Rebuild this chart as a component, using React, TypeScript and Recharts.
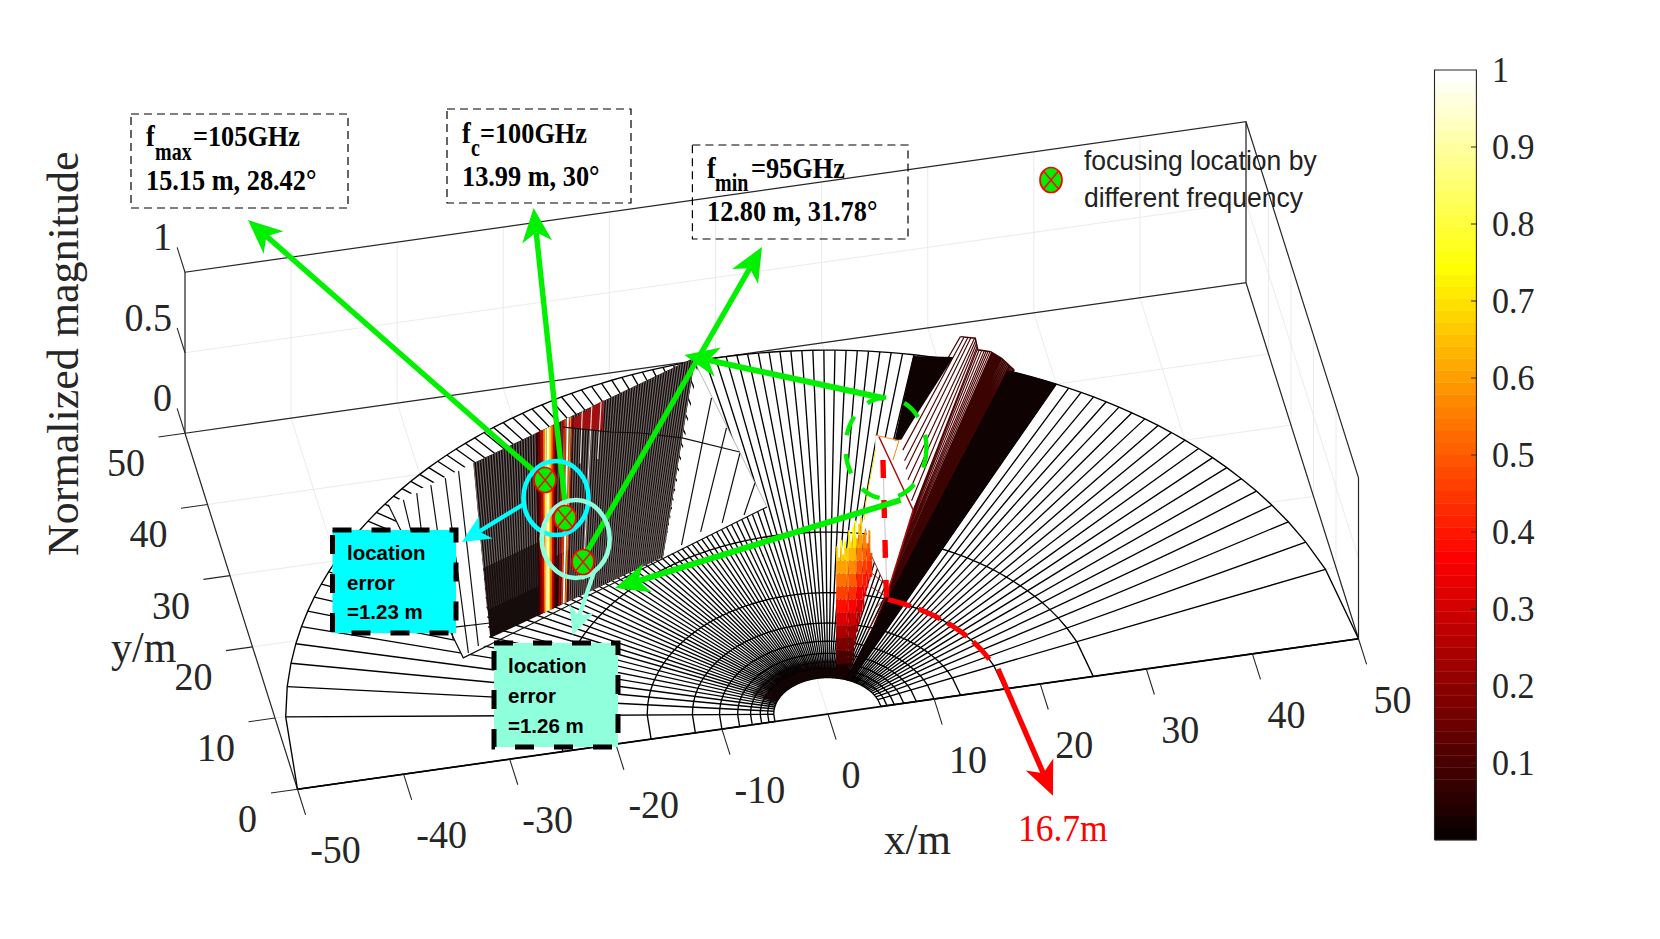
import React from "react";
import { ScatterChart, Scatter, XAxis, YAxis } from "recharts";

type Pt = [number, number];

const WIDTH = 1660;
const HEIGHT = 939;

// axis ticks
const xTicks = [-50, -40, -30, -20, -10, 0, 10, 20, 30, 40, 50];
const yTicks = [0, 10, 20, 30, 40, 50];
const zTicks = [0, 0.5, 1];
const colorbarTicks = [0.1, 0.2, 0.3, 0.4, 0.5, 0.6, 0.7, 0.8, 0.9, 1];

const meshU = [
  -1, -0.98, -0.96, -0.94, -0.92, -0.9, -0.88, -0.86, -0.84, -0.82, -0.8, -0.78, -0.76, -0.74, -0.72, -0.7, -0.68,
  -0.66, -0.64, -0.62, -0.6, -0.58, -0.56, -0.54, -0.52, -0.5, -0.48, -0.46, -0.44, -0.42, -0.4, -0.38, -0.36, -0.34,
  -0.32, -0.3, -0.28, -0.26, -0.24, -0.22, -0.2, -0.18, -0.16, -0.14, -0.12, -0.1, -0.08, -0.06, -0.04, -0.02, 0, 0.02,
  0.04, 0.06, 0.08, 0.1, 0.12, 0.14, 0.16, 0.18, 0.2, 0.22, 0.24, 0.26, 0.28, 0.3, 0.32, 0.34, 0.36, 0.38, 0.4, 0.42,
  0.44, 0.46, 0.48, 0.5, 0.52, 0.54, 0.56, 0.58, 0.6, 0.62, 0.64, 0.66, 0.68, 0.7, 0.72, 0.74, 0.76, 0.78, 0.8, 0.82,
  0.84, 0.86, 0.88, 0.9, 0.92, 0.94, 0.96, 0.98, 1,
];
const meshR = [50, 25, 16.67, 12.5, 10, 8.33, 7.14, 6.25, 5.56, 5];
const blackBandU = [0.52, 0.54, 0.56, 0.58, 0.6];
const nearDarkU = [-0.85, -0.7, -0.55, -0.4, -0.25, -0.1, 0.05, 0.2, 0.35, 0.5];

// dark sector on the left, floor metres
const sectorTop: Pt[] = [[-24.8, 40.5], [-1.8, 50.5]];
const sectorBottom: Pt[] = [[-28.3, 16.66], [-10.4, 24.25]];
const hatchT = [
  0, 0.012, 0.024, 0.036, 0.048, 0.06, 0.072, 0.084, 0.096, 0.108, 0.12, 0.132, 0.144, 0.156, 0.168, 0.18, 0.192, 0.204,
  0.216, 0.228, 0.24, 0.252, 0.264, 0.276, 0.288, 0.3, 0.312, 0.324, 0.336, 0.348, 0.36, 0.372, 0.384, 0.396, 0.408,
  0.42, 0.432, 0.444, 0.456, 0.468, 0.48, 0.492, 0.504, 0.516, 0.528, 0.54, 0.552, 0.564, 0.576, 0.588, 0.6, 0.612,
  0.624, 0.636, 0.648, 0.66, 0.672, 0.684, 0.696, 0.708, 0.72, 0.732, 0.744, 0.756, 0.768, 0.78, 0.792, 0.804, 0.816,
  0.828, 0.84, 0.852, 0.864, 0.876, 0.888, 0.9, 0.912, 0.924, 0.936, 0.948, 0.96, 0.972, 0.984, 0.996,
];
const stripeT = [0.285, 0.297, 0.308, 0.317, 0.325, 0.335, 0.344, 0.353, 0.362, 0.372, 0.4, 0.414, 0.425, 0.437, 0.448];
const stripeColor = ["#3c0000", "#7a0000", "#d00000", "#ff8000", "#ffe860", "#ffffff", "#ffe000", "#ff7000", "#c80000", "#500000", "#b00000", "#ff4000", "#ffffff", "#ff8800", "#700000"];
const stripeWidth = [2.2, 2.2, 2.2, 1.6, 2, 2, 2, 2, 2.2, 2.2, 1.8, 1.4, 1.9, 1.4, 1.2];
const faintT = [0.49, 0.533, 0.575];
const faintEnd = [0.28, 0.92, 0.3];
const redPatch: Pt[] = [[-16, 43.7], [-11.3, 46.5], [-12.2, 42.3]];

// folded strips either side of it
const leftStrip: Pt[] = [[-33.7, 36.5], [-24.8, 40.5], [-28.5, 16], [-31.3, 14.5]];
const leftStripRays: Pt[][] = [
  [[-32.2, 36.87], [-32.4, 32.7]],
  [[-30.8, 37.54], [-32.2, 26.6]],
  [[-29.3, 38.35], [-31.7, 17.1]],
  [[-27.8, 39], [-30.7, 15.06]],
  [[-26.4, 39.7], [-29.6, 15.8]],
  [[-31.2, 18.8], [-27.9, 18.68]],
];
const rightStrip: Pt[] = [[-1.9, 49], [0.4, 29], [-10.5, 24.1], [-10.4, 24.25]];
const rightStripRays: Pt[][] = [
  [[-1.5, 44.7], [-8.4, 25.5]],
  [[-1, 40.4], [-6.3, 26.9]],
  [[-0.5, 36.76], [-4.1, 27.7]],
  [[0, 32.44], [-1.9, 28.35]],
];
const ridgeArc: Pt[] = [[-15.7, 43.6], [-11.6, 42.06], [-8.9, 41.35], [-5.3, 39.9], [-0.5, 36.9]];
const nearEdge: Pt[] = [[-33.7, 36.5], [-31.3, 14.5], [0.4, 29]];

// central ridge
const kiteOutline: Pt[] = [
  [12.2, 36.6], [14.2, 35.4], [14.4, 35.5], [22.7, 48.2], [24, 47.7], [23.9, 46.1], [25, 45.6], [25.8, 44.5], [26.6, 42.7],
  [26, 42.7], [3.2, 4.56], [8.6, 14.65], [8.8, 16.5], [8.4, 20.8], [8.8, 25.4], [9.4, 27.6], [11.8, 34.6],
];
const fanBase: Pt[] = [[14.4, 35.5], [13.5, 25.8], [8.6, 14.65], [3.2, 4.56]];
const fanTop: Pt[] = [[22.7, 48.2], [24, 47.7], [23.9, 46.1], [25, 45.6], [25.8, 44.5], [26.6, 42.7]];
const fanSparseT = [0, 0.05, 0.1, 0.14, 0.19, 0.24, 0.29, 0.34, 0.38, 0.42, 0.46, 0.5, 0.53, 0.56, 0.59];
const fanDenseT = [0.62, 0.64, 0.66, 0.68, 0.7, 0.72, 0.74, 0.76, 0.78, 0.8, 0.82, 0.84, 0.86, 0.88, 0.9, 0.92, 0.94, 0.96, 0.98, 1];
const blackWedge: Pt[] = [[17.9, 46.5], [21.5, 45.6], [14.4, 35.5], [13.8, 35.5]];
const kiteOrange: Pt[] = [[12.2, 36.6], [14.2, 35.4], [13.1, 32.9]];
const kiteRed: Pt[] = [[12.5, 36.3], [13.5, 25.8], [8.6, 14.65]];
const kiteYellow: Pt[] = [[11.8, 34.6], [9.4, 27.6], [8.8, 25.4]];
const kiteGrey: Pt[] = [[12.2, 33.1], [9.1, 16.9]];
const kiteWeb: Pt[][] = [
  [[8.4, 20.8], [8.8, 16.5]],
  [[7.7, 18.6], [8.8, 16.5]],
  [[7.5, 16.3], [8.6, 14.65]],
  [[7.1, 13.1], [8.6, 14.65]],
  [[5.8, 10.1], [8.6, 14.65]],
];

// spikes next to the ridge
const spikeX = [1.89, 2.07, 2.25, 2.43, 2.61, 2.8, 2.98, 3.16, 3.34, 3.52, 3.7, 3.88, 4.06, 4.25, 4.43, 4.61, 4.79, 4.97];
const spikeY = [4.84, 4.8, 4.76, 4.72, 4.68, 4.64, 4.61, 4.57, 4.53, 4.49, 4.45, 4.41, 4.37, 4.33, 4.29, 4.25, 4.21, 4.18];
const spikeLow = [0, 0, 0, 0, 0, 0, 0.06, 0.06, 0.1, 0.2, 0.28, 0.33, 0.38, 0.42, 0.5, 0.55, 0.6, 0.62];
const spikeTop = [0.81, 0.74, 0.85, 0.76, 0.84, 0.8, 0.91, 0.84, 0.93, 0.97, 0.86, 0.95, 0.99, 0.88, 0.91, 0.83, 0.91, 0.77];
const spikeTint = [0.9, 0.9, 0.9, 0.9, 0.9, 0.9, 0.85, 0.85, 0.85, 0.85, 0.72, 0.72, 0.72, 0.68, 0.68, 0.65, 0.65, 0.65];
const spikeSteps = [0, 0.08, 0.16, 0.24, 0.32, 0.4, 0.48, 0.56, 0.64, 0.72, 0.8, 0.88, 1];

// the 16.7 m range callout
const redArcU = [0.52, 0.54, 0.56, 0.58, 0.6, 0.62, 0.64, 0.66, 0.68, 0.7, 0.72, 0.74, 0.76, 0.78, 0.8, 0.82, 0.84, 0.86, 0.88, 0.9, 0.92, 0.94, 0.96, 0.98];
const redDrop: Pt[] = [[12.2, 33.1], [8.6, 14.6]];

// annotations laid over the figure, in page units
const arrows = [
  { from: [533.6, 470.7], to: [248, 220], color: "#00f000", width: 5.4 },
  { from: [565, 503], to: [533.6, 208], color: "#00f000", width: 5.4 },
  { from: [588, 550], to: [762, 247], color: "#00f000", width: 5.4 },
  { from: [883, 398], to: [684.5, 355], color: "#00f000", width: 6 },
  { from: [900.7, 500], to: [615, 588], color: "#00f000", width: 6 },
  { from: [524, 504], to: [462, 542], color: "#00ffff", width: 4.2 },
  { from: [594, 572], to: [572.7, 635], color: "#8fffdc", width: 4.2 },
  { from: [998, 669], to: [1053, 795.7], color: "#ff0000", width: 5.4 },
];
const noteBoxes = [
  { x0: 131, y0: 114, x1: 348, y1: 208 },
  { x0: 447, y0: 109, x1: 631, y1: 203 },
  { x0: 692.4, y0: 145, x1: 908, y1: 239 },
];
const errorBoxes = [
  { x0: 332.5, y0: 530, x1: 456, y1: 633, fill: "#00ffff" },
  { x0: 494, y0: 643, x1: 618, y1: 747, fill: "#8fffdc" },
];
const rings = [
  { x: 556, y: 498, rx: 32.5, ry: 37, stroke: "#00ffff", width: 4.6 },
  { x: 575.7, y: 539, rx: 34, ry: 39, stroke: "#8fffdc", width: 4.6 },
];
const focusMarkers = [
  { x: 545, y: 480 },
  { x: 565, y: 518 },
  { x: 583, y: 562 },
  { x: 1051, y: 180 },
];
const boldNotes = [
  { x: 146, y: 146, label: "f" },
  { x: 193, y: 146, label: "=105GHz" },
  { x: 146, y: 190, label: "15.15 m, 28.42°" },
  { x: 462, y: 143, label: "f" },
  { x: 480, y: 143, label: "=100GHz" },
  { x: 462, y: 186, label: "13.99 m, 30°" },
  { x: 707, y: 178, label: "f" },
  { x: 751, y: 178, label: "=95GHz" },
  { x: 707, y: 221, label: "12.80 m, 31.78°" },
];
const boldSubs = [
  { x: 155, y: 160, label: "max" },
  { x: 471, y: 156, label: "c" },
  { x: 715, y: 191, label: "min" },
];
const errorNotes = [
  { x: 347, y: 560, label: "location" },
  { x: 347, y: 590, label: "error" },
  { x: 347, y: 619, label: "=1.23 m" },
  { x: 508, y: 673, label: "location" },
  { x: 508, y: 703, label: "error" },
  { x: 508, y: 733, label: "=1.26 m" },
];
const legendNotes = [
  { x: 1084, y: 170, label: "focusing location by" },
  { x: 1084, y: 207, label: "different frequency" },
];

// axes of the 3-D view as seen on the page
const project = (x: number, y: number, z = 0): Pt => [
  828 + 10.61 * x - 2.25 * y,
  714 - 1.505 * x - 7.12 * y - 161 * z,
];
const floorPts = (pts: Pt[]): Pt[] => pts.map(([x, y]) => project(x, y));
const polar = (u: number, r: number): Pt => project(r * u, r * Math.sqrt(Math.max(0, 1 - u * u)));
const mix = (a: Pt, b: Pt, t: number): Pt => [a[0] + (b[0] - a[0]) * t, a[1] + (b[1] - a[1]) * t];
const alongPath = (path: Pt[], t: number): Pt => {
  const s = Math.min(t * (path.length - 1), path.length - 1.0001);
  const i = Math.floor(s);
  return mix(path[i], path[i + 1], s - i);
};
const hot = (v: number) => {
  const c = (n: number) => Math.round(255 * Math.max(0, Math.min(1, n)));
  return `rgb(${c(v / 0.375)},${c((v - 0.375) / 0.375)},${c((v - 0.75) / 0.25)})`;
};
const colorbarY = (v: number) => 840 - 770 * v;

const NoSymbol = () => <g />;

const pathFrom = (points: { x: number; y: number }[], lens: number[], closed: boolean) => {
  let d = "";
  let at = 0;
  lens.forEach((n) => {
    for (let i = 0; i < n; i++) {
      const p = points[at + i];
      d += `${i === 0 ? "M" : "L"}${p.x.toFixed(2)} ${p.y.toFixed(2)}`;
    }
    if (closed) d += "Z";
    at += n;
  });
  return d;
};

interface LayerStyle {
  stroke?: string;
  width?: number;
  fill?: string;
  dash?: string;
  opacity?: number;
}

// one series per drawing layer, the path is built from the points the axes scaled
const layer = (key: string, polys: Pt[][], style: LayerStyle) => {
  const lens = polys.map((p) => p.length);
  const data = polys.flat().map(([x, y]) => ({ x, y }));
  return (
    <Scatter
      key={key}
      data={data}
      isAnimationActive={false}
      shape={NoSymbol}
      line={(p: any) => (
        <path
          d={pathFrom(p.points, lens, !!style.fill)}
          fill={style.fill ?? "none"}
          stroke={style.stroke ?? "none"}
          strokeWidth={style.width ?? 1}
          strokeDasharray={style.dash}
          strokeLinejoin="miter"
          opacity={style.opacity}
        />
      )}
    />
  );
};

interface TextStyle {
  family: string;
  size: number;
  color?: string;
  weight?: string;
  anchor?: string;
  rotate?: number;
  stretch?: number;
}

const textLayer = (key: string, items: { x: number; y: number; label: string }[], style: TextStyle) => (
  <Scatter
    key={key}
    data={items}
    isAnimationActive={false}
    shape={(p: any) => {
      const moves = [
        style.rotate ? `rotate(${style.rotate} ${p.cx} ${p.cy})` : "",
        style.stretch ? `translate(0 ${p.cy}) scale(1 ${style.stretch}) translate(0 ${-p.cy})` : "",
      ].join(" ");
      return (
        <text
          x={p.cx}
          y={p.cy}
          fontFamily={style.family}
          fontSize={style.size}
          fontWeight={style.weight}
          fill={style.color ?? "#262626"}
          textAnchor={style.anchor ?? "start"}
          transform={moves.trim() || undefined}
        >
          {p.payload?.label ?? p.label}
        </text>
      );
    }}
  />
);

const ringLayer = (key: string, ring: { x: number; y: number; rx: number; ry: number; stroke: string; width: number }, dash?: string) => (
  <Scatter
    key={key}
    data={[{ x: ring.x, y: ring.y }]}
    isAnimationActive={false}
    shape={(p: any) => (
      <ellipse cx={p.cx} cy={p.cy} rx={ring.rx} ry={ring.ry} fill="none" stroke={ring.stroke} strokeWidth={ring.width} strokeDasharray={dash} />
    )}
  />
);

const markerLayer = (key: string) => (
  <Scatter
    key={key}
    data={focusMarkers}
    isAnimationActive={false}
    shape={(p: any) => (
      <g>
        <ellipse cx={p.cx} cy={p.cy} rx={11} ry={12.5} fill="#00ee00" stroke="#ff0000" strokeWidth={1.7} />
        <path d={`M${p.cx - 7.5} ${p.cy - 9}L${p.cx + 7.5} ${p.cy + 9}M${p.cx + 7.5} ${p.cy - 9}L${p.cx - 7.5} ${p.cy + 9}`} stroke="#ff0000" strokeWidth={1.4} />
      </g>
    )}
  />
);

const arrowLayers = () =>
  arrows.map((a, i) => {
    const from = a.from as Pt;
    const to = a.to as Pt;
    const len = Math.hypot(to[0] - from[0], to[1] - from[1]);
    const ux = (to[0] - from[0]) / len;
    const uy = (to[1] - from[1]) / len;
    const big = a.color === "#00f000" || a.color === "#ff0000";
    const head = big ? 34 : 28;
    const half = big ? 15 : 13;
    const notch: Pt = [to[0] - ux * head * 0.72, to[1] - uy * head * 0.72];
    const left: Pt = [to[0] - ux * head - uy * half, to[1] - uy * head + ux * half];
    const right: Pt = [to[0] - ux * head + uy * half, to[1] - uy * head - ux * half];
    return (
      <React.Fragment key={`arrow-${i}`}>
        {layer(`arrow-shaft-${i}`, [[from, notch]], { stroke: a.color, width: a.width })}
        {layer(`arrow-head-${i}`, [[to, left, notch, right]], { fill: a.color })}
      </React.Fragment>
    );
  });

export default function App() {
  const SERIF = "'Liberation Serif', serif";
  const SANS = "'Liberation Sans', sans-serif";

  const rectPts = (b: { x0: number; y0: number; x1: number; y1: number }): Pt[] => [
    [b.x0, b.y0], [b.x1, b.y0], [b.x1, b.y1], [b.x0, b.y1], [b.x0, b.y0],
  ];

  // light grid on the walls and floor
  const gridLines: Pt[][] = [
    ...xTicks.map((x) => [project(x, 0), project(x, 50)]),
    ...yTicks.map((y) => [project(-50, y), project(50, y)]),
    ...xTicks.map((x) => [project(x, 50), project(x, 50, 1)]),
    ...yTicks.map((y) => [project(50, y), project(50, y, 1)]),
    [project(-50, 50, 0.5), project(50, 50, 0.5), project(50, 0, 0.5)],
  ];
  const wallLines: Pt[][] = [
    [project(-50, 50), project(-50, 50, 1), project(50, 50, 1), project(50, 50)],
    [project(-50, 50), project(50, 50), project(50, 0)],
    [project(50, 50, 1), project(50, 0, 1), project(50, 0)],
    [project(-50, 50), project(-50, 0)],
  ];
  const tickLines: Pt[][] = [
    ...xTicks.map((x) => [project(x, 0), project(x, -3.6)]),
    ...yTicks.map((y) => [project(-50, y), project(-52.5, y)]),
    ...zTicks.map((z) => [project(-50, 50, z), project(-50, 53.5, z)]),
  ];

  // mesh
  const annulus = (us: number[], rOuter: number, rInner: number): Pt[] => [
    ...us.map((u) => polar(u, rOuter)),
    ...[...us].reverse().map((u) => polar(u, rInner)),
  ];
  const sectorFill = annulus(meshU, 50, 5);
  const rays: Pt[][] = meshU.map((u) => [polar(u, 5), polar(u, 50)]);
  const arcs: Pt[][] = meshR.map((r) => meshU.map((u) => polar(u, r)));
  const blackBand = annulus(blackBandU, 50, 5);

  // dark sector
  const sectorPoly = floorPts([sectorTop[0], sectorTop[1], sectorBottom[1], sectorBottom[0]]);
  const sectorLine = (t: number, end = 1): Pt[] => {
    const a = mix(project(...sectorTop[0]), project(...sectorTop[1]), t);
    const b = mix(project(...sectorBottom[0]), project(...sectorBottom[1]), t);
    return [a, mix(a, b, end)];
  };
  const hatchDim = hatchT.map((t) => sectorLine(t, t < 0.45 ? 0.84 : 1));
  const hatch = hatchT.map((t) => sectorLine(t, t < 0.28 ? 0.6 : t < 0.45 ? 0.72 : 1));

  // fan of the ridge
  const fanBasePts = floorPts(fanBase);
  const fanTopPts = floorPts(fanTop);
  const fanLine = (t: number) => [alongPath(fanBasePts, t), alongPath(fanTopPts, t)];

  // spikes, coloured by their height
  const spikeSegments = new Map<string, Pt[][]>();
  spikeX.forEach((x, i) => {
    spikeSteps.slice(0, -1).forEach((z0, j) => {
      const lo = Math.max(z0, spikeLow[i]);
      const hi = Math.min(spikeSteps[j + 1], spikeTop[i]);
      if (hi <= lo) return;
      const colour = hot(((lo + hi) / 2) * spikeTint[i]);
      const list = spikeSegments.get(colour) ?? [];
      list.push([project(x, spikeY[i], lo), project(x, spikeY[i], hi)]);
      spikeSegments.set(colour, list);
    });
  });

  const redArc = redArcU.map((u) => polar(u, 16.67));

  // colour bar
  const bandEdges = Array.from({ length: 65 }, (_, i) => i / 64);
  const colorbarBands = bandEdges.slice(0, -1).map((v, i) => ({
    colour: hot(bandEdges[i + 1]),
    poly: [[1434.5, colorbarY(v)], [1476.4, colorbarY(v)], [1476.4, colorbarY(bandEdges[i + 1])], [1434.5, colorbarY(bandEdges[i + 1])]] as Pt[],
  }));

  const xTickLabels = xTicks.map((x) => {
    const [px, py] = project(x, 0);
    return { x: px + (x < 0 ? 38 : x === 0 ? 23 : 34), y: py + 74, label: String(x) };
  });
  const yTickLabels = yTicks.map((y) => {
    const [px, py] = project(-50, y);
    return { x: px - (y === 0 ? 50 : 59), y: py + 43, label: String(y) };
  });
  const zTickLabels = zTicks.map((z) => {
    const [px, py] = project(-50, 50, z);
    return { x: px - 13, y: py - 22, label: String(z) };
  });
  const colorbarLabels = colorbarTicks.map((v) => ({ x: 1492, y: colorbarY(v) + 12, label: String(v) }));
  const colorbarTickLines: Pt[][] = colorbarTicks.slice(0, -1).map((v) => [[1476.4, colorbarY(v)], [1471, colorbarY(v)]]);

  return (
    <div style={{ position: "absolute", left: 0, top: 0, width: WIDTH, height: HEIGHT, background: "#fff" }}>
      <ScatterChart width={WIDTH} height={HEIGHT} margin={{ top: 0, right: 0, bottom: 0, left: 0 }}>
        <XAxis type="number" dataKey="x" domain={[0, WIDTH]} hide allowDataOverflow />
        <YAxis type="number" dataKey="y" domain={[0, HEIGHT]} reversed hide allowDataOverflow />

        {layer("grid", gridLines, { stroke: "#e6e6e6", width: 0.8 })}
        {layer("walls", wallLines, { stroke: "#262626", width: 1.2 })}
        {layer("sector-fill", [sectorFill], { fill: "#ffffff" })}
        {layer("rays", rays, { stroke: "#000", width: 1.35 })}
        {layer("arcs", arcs, { stroke: "#000", width: 1.35 })}
        {layer("near-dark", [annulus(nearDarkU, 6.25, 5)], { fill: "#140404", opacity: 0.9 })}
        {layer("near-dim", [annulus(nearDarkU, 7.5, 6.25)], { fill: "#140404", opacity: 0.45 })}

        {layer("left-strip", [floorPts(leftStrip)], { fill: "#ffffff" })}
        {layer("left-strip-rays", leftStripRays.map(floorPts), { stroke: "#111", width: 1.2 })}
        {layer("right-strip", [floorPts(rightStrip)], { fill: "#ffffff" })}
        {layer("right-strip-rays", rightStripRays.map(floorPts), { stroke: "#111", width: 1.2 })}
        {layer("right-strip-edge", [[project(-1.9, 49), project(0.4, 29)]], { stroke: "#999", width: 0.7 })}
        {layer("near-edge", [floorPts(nearEdge)], { stroke: "#111", width: 1.2 })}
        {layer("sector", [sectorPoly], { fill: "#170c0c" })}
        {layer("hatch-dim", hatchDim, { stroke: "#352a2a", width: 0.9 })}
        {layer("hatch", hatch, { stroke: "#7c7676", width: 0.9 })}
        {layer("red-patch", [floorPts(redPatch)], { fill: "#a01010" })}
        {stripeT.map((t, i) => layer(`stripe-${i}`, [sectorLine(t)], { stroke: stripeColor[i], width: stripeWidth[i] }))}
        {faintT.map((t, i) => layer(`faint-${i}`, [sectorLine(t, faintEnd[i])], { stroke: "#e8e0e0", width: 1.1 }))}
        {layer("ridge-arc", [floorPts(ridgeArc)], { stroke: "#111", width: 1.2 })}

        {layer("kite", [floorPts(kiteOutline)], { fill: "#ffffff" })}
        {layer("fan-sparse", fanSparseT.map(fanLine), { stroke: "#4e0404", width: 1.15 })}
        {layer("fan-dense", fanDenseT.map(fanLine), { stroke: "#3c0303", width: 1.5 })}
        {layer("fan-top", [fanTopPts], { stroke: "#3c0303", width: 1.4 })}
        {layer("black-band", [blackBand], { fill: "#0e0202", stroke: "#0e0202", width: 0.6 })}
        {layer("black-wedge", [floorPts(blackWedge)], { fill: "#0e0202" })}
        {layer("kite-grey", [floorPts(kiteGrey)], { stroke: "#aaaaaa", width: 0.7 })}
        {layer("kite-web", kiteWeb.map(floorPts), { stroke: "#8a1010", width: 0.9 })}
        {layer("kite-red", [floorPts(kiteRed)], { stroke: "#a81010", width: 1.5 })}
        {layer("kite-orange", [floorPts(kiteOrange)], { stroke: "#ff8c00", width: 1 })}
        {layer("kite-yellow", [floorPts(kiteYellow)], { stroke: "#ffe000", width: 1 })}
        {[...spikeSegments.entries()].map(([colour, segs], i) => layer(`spike-${i}`, segs, { stroke: colour, width: 2 }))}

        {layer("front-axis", [[project(-50, 0), project(50, 0)]], { stroke: "#000", width: 1.7 })}
        {layer("ticks", tickLines, { stroke: "#262626", width: 1.1 })}

        {colorbarBands.map((b, i) => layer(`cbar-${i}`, [b.poly], { fill: b.colour, stroke: b.colour, width: 0.4 }))}
        {layer("cbar-frame", [[[1434.5, colorbarY(0)], [1476.4, colorbarY(0)], [1476.4, colorbarY(1)], [1434.5, colorbarY(1)], [1434.5, colorbarY(0)]]], { stroke: "#262626", width: 1.1 })}
        {layer("cbar-ticks", colorbarTickLines, { stroke: "#262626", width: 1 })}

        {textLayer("x-ticks", xTickLabels, { family: SERIF, size: 38, anchor: "middle", stretch: 1.05 })}
        {textLayer("y-ticks", yTickLabels, { family: SERIF, size: 38, anchor: "middle", stretch: 1.05 })}
        {textLayer("z-ticks", zTickLabels, { family: SERIF, size: 38, anchor: "end", stretch: 1.05 })}
        {textLayer("cbar-labels", colorbarLabels, { family: SERIF, size: 34, stretch: 1.06 })}
        {textLayer("z-title", [{ x: 78, y: 556, label: "Normalized magnitude" }], { family: SERIF, size: 44, rotate: -90 })}
        {textLayer("y-title", [{ x: 111, y: 662, label: "y/m" }], { family: SERIF, size: 42, stretch: 1.05 })}
        {textLayer("x-title", [{ x: 884, y: 854, label: "x/m" }], { family: SERIF, size: 43, stretch: 1.05 })}
        {textLayer("range-note", [{ x: 1018, y: 841, label: "16.7m" }], { family: SERIF, size: 35.5, color: "#ff0000", stretch: 1.08 })}

        {ringLayer("focus-ring", { x: 886, y: 448, rx: 40.5, ry: 50.5, stroke: "#00ee00", width: 4.4 }, "20 19")}
        {layer("red-drop", [floorPts(redDrop)], { stroke: "#ff0000", width: 5.4, dash: "18 22" })}
        {layer("red-arc", [redArc], { stroke: "#ff0000", width: 5, dash: "24 8" })}

        {noteBoxes.map((b, i) => layer(`note-box-${i}`, [rectPts(b)], { stroke: "#000", width: 1.2, dash: "8 5" }))}
        {arrowLayers()}
        {rings.map((r, i) => ringLayer(`ring-${i}`, r))}
        {markerLayer("focus-markers")}
        {errorBoxes.map((b, i) => (
          <React.Fragment key={`err-${i}`}>
            {layer(`err-fill-${i}`, [rectPts(b)], { fill: b.fill })}
            {layer(`err-line-${i}`, [rectPts(b)], { stroke: "#000", width: 5, dash: "19 20" })}
          </React.Fragment>
        ))}
        {textLayer("bold-notes", boldNotes, { family: SERIF, size: 26.3, weight: "bold", color: "#000", stretch: 1.12 })}
        {textLayer("bold-subs", boldSubs, { family: SERIF, size: 20, weight: "bold", color: "#000", stretch: 1.3 })}
        {textLayer("error-notes", errorNotes, { family: SANS, size: 20.5, weight: "bold", color: "#000" })}
        {textLayer("legend-notes", legendNotes, { family: SANS, size: 26.5, color: "#222", stretch: 1.05 })}
      </ScatterChart>
    </div>
  );
}
